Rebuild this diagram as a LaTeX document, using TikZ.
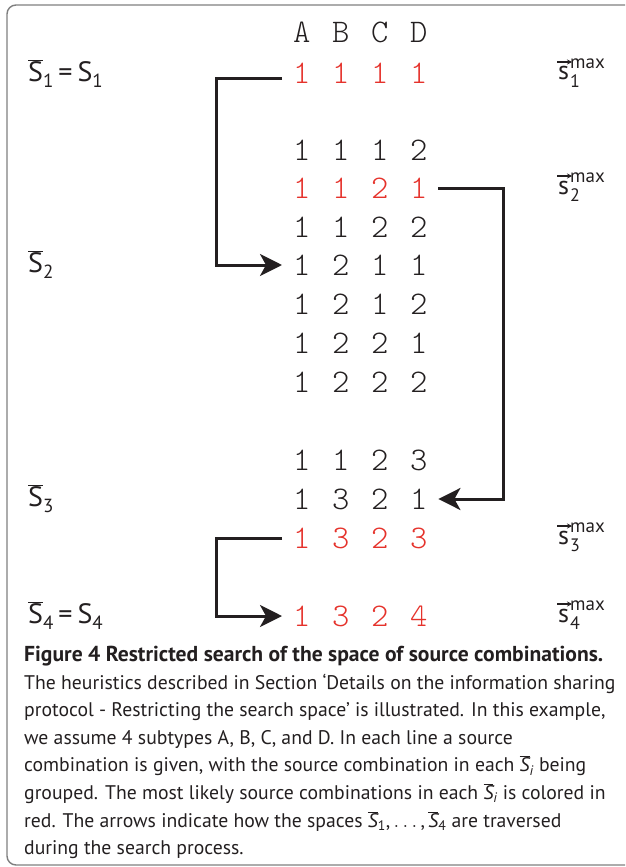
\documentclass[tikz,border=0pt]{standalone}
\usepackage{fontspec}
\setmainfont{PT Sans}
\newfontfamily\monof{lmmonolt10-regular.otf}
\usetikzlibrary{arrows.meta}
\definecolor{redd}{HTML}{E5322B}
\definecolor{ink}{HTML}{231F20}
\definecolor{framegray}{HTML}{7F7F7F}
\newcommand\Sbar{\ensuremath{\overline{\hbox{S}}}}
\newcommand\Sbi{\ensuremath{\overline{\hbox{\itshape S}}}}
\newcommand\smx[1]{s\kern1pt\makebox[0pt][l]{\raisebox{12pt}{\fontsize{19}{19}\selectfont max}}\raisebox{-7pt}{\fontsize{18}{18}\selectfont #1}}
\newcommand\lsub[1]{\raisebox{-6pt}{\fontsize{19}{19}\selectfont #1}}
\newcommand\rw[4]{\makebox[39pt]{#1}\makebox[39pt]{#2}\makebox[39pt]{#3}\makebox[39pt]{#4}}
\tikzset{
  row/.style={font=\fontsize{33}{33}\monof, inner sep=0pt, text height=20pt, text depth=0pt, anchor=west, text=ink},
  redrow/.style={row, text=redd},
  lab/.style={font=\fontsize{28}{28}\selectfont, anchor=west, inner sep=0pt, text=ink},
  smax/.style={font=\fontsize{26}{26}\selectfont, anchor=base west, inner sep=0pt, text=ink},
  vecarr/.style={line width=1.1pt, color=ink, -{Stealth[length=5pt,width=5pt]}},
  conn/.style={line width=3pt, color=ink},
  arr/.style={conn, -{Stealth[length=22pt,width=22pt,inset=6pt]}},
}
\begin{document}
\begin{tikzpicture}[x=1pt,y=-1pt]
\useasboundingbox (0,0) rectangle (625,867);
\begin{scope}
\clip (0,0) rectangle (625,867);
\draw[framegray, line width=1.4pt, rounded corners=9pt] (7,5) rectangle (720,865);
\end{scope}
% column headers
\node[row] (hdr) at (282,33) {\rw ABCD};
% rows
\node[redrow] (r1) at (282,74) {\rw 1111};
\node[row] (r2a) at (282,150) {\rw 1112};
\node[redrow] (r2b) at (282,188) {\rw 1121};
\node[row] (r2c) at (282,227) {\rw 1122};
\node[row] (r2d) at (282,265) {\rw 1211};
\node[row] (r2e) at (282,304) {\rw 1212};
\node[row] (r2f) at (282,343) {\rw 1221};
\node[row] (r2g) at (282,382) {\rw 1222};
\node[row] (r3a) at (282,460) {\rw 1123};
\node[row] (r3b) at (282,499) {\rw 1321};
\node[redrow] (r3c) at (282,538) {\rw 1323};
\node[redrow] (r4) at (282,616) {\rw 1324};
% left labels
\node[lab] (L1) at (28,74) {\Sbar\lsub{1}\kern5pt=\kern5pt S\lsub{1}};
\node[lab] (L2) at (28,265) {\Sbar\lsub{2}};
\node[lab] (L3) at (28,499) {\Sbar\lsub{3}};
\node[lab] (L4) at (28,616) {\Sbar\lsub{4}\kern5pt=\kern5pt S\lsub{4}};
% right labels
\node[smax] (M1) at (558,80) {\smx{1}};
\node[smax] (M2) at (558,194) {\smx{2}};
\node[smax] (M3) at (558,544) {\smx{3}};
\node[smax] (M4) at (558,622) {\smx{4}};
\foreach \m in {M1,M2,M3,M4}
  \draw[vecarr] ([shift={(-1,-18)}]\m.base west) -- ++(15,0);
% connectors
\draw[arr] ([yshift=-4pt]r1.west) -| ++(-66,0) |- (r2d.west);
\draw[arr] (r2b.east) -- ++(65,0) |- (r3b.east);
\draw[arr] (r3c.west) -- ++(-66,0) |- (r4.west);
% caption
\node[anchor=north west, inner sep=0pt, align=left, text=ink,
      font=\fontsize{19.7}{27.6}\selectfont] (cap) at (24,646) {%
{\fontsize{21.6}{27.6}\selectfont\bfseries Figure 4 Restricted search of the space of source combinations.}\\
The heuristics described in Section `Details on the information sharing\\
protocol - Restricting the search space' is illustrated. In this example,\\
we assume 4 subtypes A, B, C, and D. In each line a source\\
combination is given, with the source combination in each \Sbi\textsubscript{\itshape i} being\\
grouped. The most likely source combinations in each \Sbi\textsubscript{\itshape i} is colored in\\
red. The arrows indicate how the spaces \Sbi\textsubscript{1},\,$\ldots$\,,\,\Sbi\textsubscript{4} are traversed\\
during the search process.};
\end{tikzpicture}
\end{document}
